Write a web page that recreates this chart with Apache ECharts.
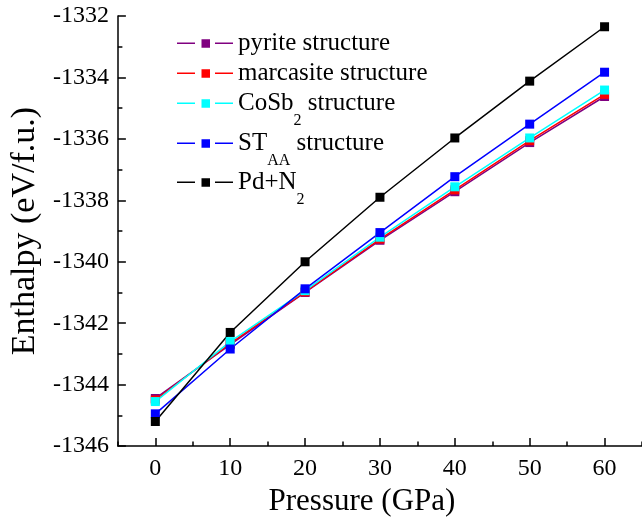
<!DOCTYPE html>
<html>
<head>
<meta charset="utf-8">
<script src="https://cdn.jsdelivr.net/npm/echarts@6/dist/echarts.min.js"></script>
<style>
html,body{margin:0;padding:0;background:#fff;}
#chart{width:642px;height:522px;}
</style>
</head>
<body>
<div id="chart"></div>
<script>
const pressure = [0, 10, 20, 30, 40, 50, 60];
const pyrite    = [-1344.45, -1342.70, -1341.00, -1339.30, -1337.72, -1336.12, -1334.62];
const marcasite = [-1344.50, -1342.66, -1340.98, -1339.26, -1337.66, -1336.06, -1334.55];
const cosb2     = [-1344.55, -1342.60, -1340.94, -1339.20, -1337.56, -1335.97, -1334.41];
const staa      = [-1344.95, -1342.84, -1340.88, -1339.05, -1337.23, -1335.52, -1333.83];
const pdn2      = [-1345.20, -1342.30, -1340.00, -1337.90, -1335.97, -1334.12, -1332.35];
const xLabels = [0, 10, 20, 30, 40, 50, 60];

const FONT = 'Liberation Serif';
const seriesDefs = [
  {name: 'pyrite', label: '{m|pyrite structure}{s| }', color: '#800080', data: pyrite, rowY: 42},
  {name: 'marcasite', label: '{m|marcasite structure}{s| }', color: '#ff0000', data: marcasite, rowY: 72},
  {name: 'CoSb2', label: '{m|CoSb}{s|2}{m| structure}', color: '#00ffff', data: cosb2, rowY: 102},
  {name: 'STAA', label: '{m|ST}{s|AA}{m| structure}', color: '#0000ff', data: staa, rowY: 142},
  {name: 'PdN2', label: '{m|Pd+N}{s|2}', color: '#000000', data: pdn2, rowY: 181}
];

const iconPath = 'path://M0,3.25h18v1.5h-18z M24.5,0h8.5v8.5h-8.5z M38,3.25h18v1.5h-18z';
const rich = {
  m: {fontFamily: FONT, fontSize: 25, color: '#000', lineHeight: 50, verticalAlign: 'middle'},
  s: {fontFamily: FONT, fontSize: 16, color: '#000', lineHeight: 14, verticalAlign: 'bottom'}
};

const legends = seriesDefs.map(d => ({
  data: [{name: d.name, icon: iconPath}],
  left: 177,
  top: d.rowY - 11,
  padding: 0,
  itemWidth: 56,
  itemHeight: 8.5,
  itemGap: 0,
  symbolKeepAspect: true,
  selectedMode: false,
  formatter: () => d.label,
  textStyle: {rich: rich, fontFamily: FONT, fontSize: 25, color: '#000'}
}));

const chart = echarts.init(document.getElementById('chart'), null, {renderer: 'canvas'});
chart.setOption({
  animation: false,
  backgroundColor: '#fff',
  legend: legends,
  grid: {left: 108, right: -2, top: 16, bottom: 71, containLabel: false},
  xAxis: {
    type: 'value', min: -5, max: 65, interval: 10,
    name: 'Pressure (GPa)', nameLocation: 'middle', nameGap: 37,
    nameTextStyle: {fontFamily: FONT, fontSize: 31, color: '#000', padding: [0, 36, 0, 0]},
    axisLine: {show: true, onZero: false, lineStyle: {color: '#000', width: 1.5}},
    axisTick: {show: true, inside: true, length: 4.5, lineStyle: {color: '#000', width: 1.5}},
    minorTick: {show: true, splitNumber: 2, length: 8, lineStyle: {color: '#000', width: 1.5}},
    axisLabel: {customValues: xLabels, margin: 11, fontFamily: FONT, fontSize: 24, color: '#000'},
    splitLine: {show: false}, minorSplitLine: {show: false}
  },
  yAxis: {
    type: 'value', min: -1346, max: -1332, interval: 2,
    name: 'Enthalpy (eV/f.u.)', nameLocation: 'middle', nameGap: 66,
    nameTextStyle: {fontFamily: FONT, fontSize: 34, color: '#000'},
    axisLine: {show: true, onZero: false, lineStyle: {color: '#000', width: 1.5}},
    axisTick: {show: true, inside: true, length: 8, lineStyle: {color: '#000', width: 1.5}},
    minorTick: {show: true, splitNumber: 2, length: 4.5, lineStyle: {color: '#000', width: 1.5}},
    axisLabel: {margin: 9, fontFamily: FONT, fontSize: 24, color: '#000', formatter: v => String(v)},
    splitLine: {show: false}
  },
  series: seriesDefs.map(d => ({
    name: d.name,
    type: 'line',
    data: pressure.map((p, i) => [p, d.data[i]]),
    symbol: 'rect',
    symbolSize: 9,
    showSymbol: true,
    lineStyle: {color: d.color, width: 1.5},
    itemStyle: {color: d.color},
    emphasis: {disabled: true}
  }))
});
</script>
</body>
</html>
